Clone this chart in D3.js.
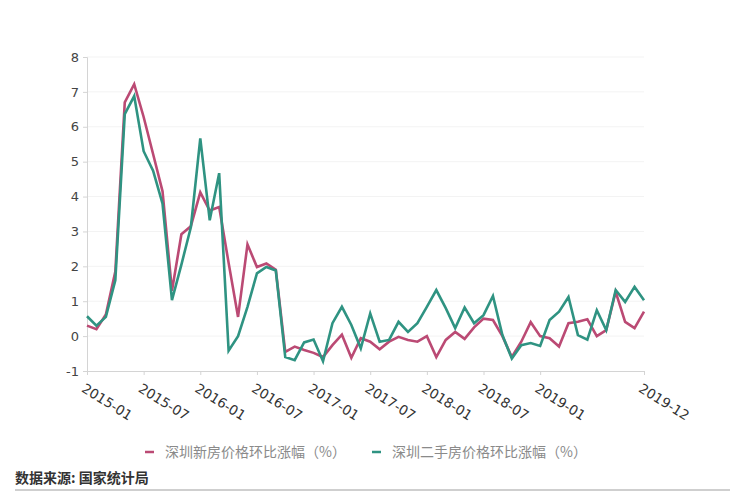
<!DOCTYPE html>
<html>
<head>
<meta charset="utf-8">
<script src="https://cdn.jsdelivr.net/npm/d3@7"></script>
<style>
  body { margin: 0; background: #fff; }
  svg { display: block; font-family: "Noto Sans CJK SC", "DejaVu Sans", sans-serif; }
</style>
</head>
<body>
<div id="chart"></div>
<script>
// monthly index 0 = 2015-01 ... 59 = 2019-12
const tickMonths = [0, 6, 12, 18, 24, 30, 36, 42, 48, 59];
const tickLabels = ["2015-01", "2015-07", "2016-01", "2016-07", "2017-01", "2017-07", "2018-01", "2018-07", "2019-01", "2019-12"];

const newHouse = [
  0.3, 0.2, 0.62, 1.85, 6.7, 7.22, 6.28, 5.22, 4.15, 1.3,
  2.92, 3.15, 4.12, 3.6, 3.7, 2.1, 0.55, 2.63, 1.98, 2.08,
  1.9, -0.45, -0.3, -0.4, -0.48, -0.6, -0.26, 0.04, -0.62, -0.06,
  -0.16, -0.38, -0.16, -0.02, -0.11, -0.16, 0.0, -0.6, -0.11, 0.12,
  -0.08, 0.25, 0.5, 0.46, 0.0, -0.6, -0.16, 0.4, 0.0, -0.06,
  -0.3, 0.37, 0.41, 0.48, 0.0, 0.17, 1.27, 0.41, 0.23, 0.7
];
const secondHand = [
  0.57, 0.3, 0.55, 1.6, 6.36, 6.88, 5.3, 4.74, 3.8, 1.03,
  2.05, 3.12, 5.67, 3.32, 4.67, -0.42, 0.0, 0.84, 1.8, 1.98,
  1.88, -0.6, -0.69, -0.18, -0.1, -0.72, 0.37, 0.84, 0.32, -0.35,
  0.65, -0.16, -0.11, 0.41, 0.12, 0.37, 0.84, 1.32, 0.8, 0.23,
  0.82, 0.37, 0.6, 1.15, 0.03, -0.64, -0.26, -0.2, -0.28, 0.46,
  0.7, 1.12, 0.03, -0.1, 0.74, 0.17, 1.32, 0.98, 1.41, 1.03
];
const yTicks = [-1, 0, 1, 2, 3, 4, 5, 6, 7, 8];
const seriesNames = ["深圳新房价格环比涨幅（%）", "深圳二手房价格环比涨幅（%）"];
const seriesColors = ["#bb4a74", "#2f9382"];

const width = 750, height = 500;
const svg = d3.select("#chart").append("svg")
  .attr("width", width)
  .attr("height", height);

const x = d3.scaleLinear().domain([0, 59]).range([87, 644]);
const y = d3.scaleLinear().domain([-1, 8]).range([371, 57]);

// faint gridlines
svg.append("g")
  .selectAll("line")
  .data(yTicks.slice(1))
  .join("line")
  .attr("x1", x(0)).attr("x2", x(59))
  .attr("y1", d => y(d)).attr("y2", d => y(d))
  .attr("stroke", "#f3f3f3")
  .attr("stroke-width", 1);

// y axis
const yAxis = svg.append("g")
  .attr("transform", `translate(${x(0)},0)`)
  .call(d3.axisLeft(y).tickValues(yTicks).tickSize(4).tickFormat(d => String(d)));
yAxis.select(".domain").attr("stroke", "#d4d4d4");
yAxis.selectAll(".tick line").attr("stroke", "#d4d4d4");
yAxis.selectAll("text")
  .attr("fill", "#444")
  .attr("font-size", 13)
  .attr("font-family", "'DejaVu Sans', sans-serif")
  .attr("x", -8);

// x axis
const xAxis = svg.append("g")
  .attr("transform", `translate(0,${y(-1)})`)
  .call(d3.axisBottom(x).tickValues(tickMonths).tickSize(4).tickFormat((d, i) => tickLabels[i]));
xAxis.select(".domain").attr("stroke", "#d4d4d4");
xAxis.selectAll(".tick line").attr("stroke", "#d4d4d4");
xAxis.selectAll("text")
  .attr("fill", "#333")
  .attr("font-size", 13.5)
  .attr("font-family", "'DejaVu Sans', sans-serif")
  .attr("text-anchor", "start")
  .attr("dy", 0)
  .attr("transform", "translate(-3,14) rotate(32)");

// lines
const line = d3.line()
  .x((d, i) => x(i))
  .y(d => y(d));

[newHouse, secondHand].forEach((s, k) => {
  svg.append("path")
    .datum(s)
    .attr("fill", "none")
    .attr("stroke", seriesColors[k])
    .attr("stroke-width", 2.6)
    .attr("stroke-linejoin", "miter")
    .attr("d", line);
});

// legend
const legend = svg.append("g");
const legendX = [145, 372];
seriesNames.forEach((name, k) => {
  legend.append("line")
    .attr("x1", legendX[k]).attr("x2", legendX[k] + 9)
    .attr("y1", 452).attr("y2", 452)
    .attr("stroke", seriesColors[k])
    .attr("stroke-width", 2.5);
  legend.append("text")
    .attr("x", legendX[k] + 20)
    .attr("y", 457)
    .attr("fill", "#8a8a8a")
    .attr("font-size", 14)
    .text(name);
});

// source
svg.append("text")
  .attr("x", 15)
  .attr("y", 483)
  .attr("fill", "#333")
  .attr("font-size", 14)
  .attr("font-weight", "bold")
  .text("数据来源: 国家统计局");

svg.append("line")
  .attr("x1", 15).attr("x2", 730)
  .attr("y1", 490).attr("y2", 490)
  .attr("stroke", "#cfcfcf")
  .attr("stroke-width", 2);
</script>
</body>
</html>
